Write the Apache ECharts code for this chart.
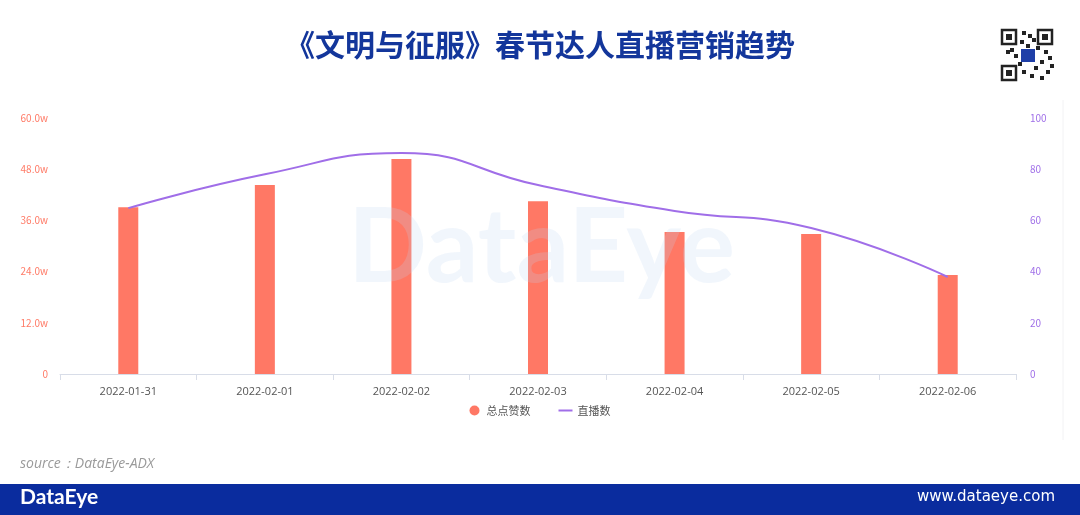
<!DOCTYPE html>
<html><head><meta charset="utf-8">
<script src="https://cdn.jsdelivr.net/npm/echarts@6/dist/echarts.min.js"></script>
<style>html,body{margin:0;padding:0;background:#fff}#c{width:1080px;height:515px}</style>
</head><body><div id="c"></div>
<script>
const categories = ['2022-01-31','2022-02-01','2022-02-02','2022-02-03','2022-02-04','2022-02-05','2022-02-06'];
const likes = [39.1, 44.3, 50.4, 40.5, 33.3, 32.8, 23.2]; // 总点赞数 (w)
const lives = [64.8, 78, 86.3, 73.8, 63.7, 57, 37.9];     // 直播数
const leftTicks = [0, 12, 24, 36, 48, 60];
const rightTicks = [0, 20, 40, 60, 80, 100];

const chart = echarts.init(document.getElementById('c'));
const qr = [];
function finder(x, y) {
  qr.push({type:'rect', shape:{x:x, y:y, width:14, height:14}, style:{fill:'none', stroke:'#222', lineWidth:2.5}});
  qr.push({type:'rect', shape:{x:x+4, y:y+4, width:6, height:6}, style:{fill:'#222'}});
}
finder(1002, 30); finder(1038, 30); finder(1002, 66);
const dots = [[1022,31],[1028,34],[1020,40],[1032,38],[1006,50],[1014,54],[1024,50],[1044,50],[1048,56],[1040,60],[1022,70],[1030,74],[1046,70],[1040,76],[1050,64],[1010,48],[1026,44],[1036,46],[1018,62],[1034,66]];
dots.forEach(d => qr.push({type:'rect', shape:{x:d[0], y:d[1], width:4, height:4}, style:{fill:'#222'}}));
qr.push({type:'rect', shape:{x:1021, y:49, width:14, height:13}, style:{fill:'#1f3fa8'}});

chart.setOption({
  animation: false,
  textStyle: {fontFamily: '"Noto Sans CJK SC", "Noto Sans", sans-serif'},
  title: {
    text: '《文明与征服》春节达人直播营销趋势',
    left: 'center', top: 25,
    textStyle: {fontSize: 30, fontWeight: 'bold', color: '#13369b', fontFamily: '"Noto Sans CJK SC", sans-serif'}
  },
  grid: {left: 60, right: 64, top: 118, bottom: 141, containLabel: false},
  legend: {
    bottom: 94, left: 'center', itemGap: 28,
    itemWidth: 14, itemHeight: 10, symbolKeepAspect: true,
    textStyle: {fontSize: 11, color: '#555'},
    data: [{name: '总点赞数', icon: 'circle'}, {name: '直播数', icon: 'path://M0,0 H14 V2 H0 Z'}]
  },
  xAxis: {
    type: 'category', data: categories,
    axisLine: {lineStyle: {color: '#d8dde8'}},
    axisTick: {show: true, alignWithLabel: false, length: 6, lineStyle: {color: '#d8dde8'}},
    axisLabel: {color: '#555', fontSize: 11, margin: 12, fontFamily: '"Open Sans", sans-serif'}
  },
  yAxis: [{
    type: 'value', min: 0, max: 60, interval: 12,
    axisLine: {show: false}, axisTick: {show: false}, splitLine: {show: false},
    axisLabel: {color: '#ff7b67', fontSize: 10, margin: 12, formatter: v => v === 0 ? '0' : v.toFixed(1) + 'w'}
  }, {
    type: 'value', min: 0, max: 100, interval: 20,
    axisLine: {show: false}, axisTick: {show: false}, splitLine: {show: false},
    axisLabel: {color: '#a070e8', fontSize: 10, margin: 14}
  }],
  series: [{
    name: '总点赞数', type: 'bar', data: likes, barWidth: 20,
    itemStyle: {color: '#ff7865'}, yAxisIndex: 0
  }, {
    name: '直播数', type: 'line', data: lives, smooth: true, yAxisIndex: 1,
    showSymbol: false, symbol: 'none',
    lineStyle: {color: '#a06ee8', width: 2}, itemStyle: {color: '#a06ee8'}
  }],
  graphic: [
    {type: 'text', left: 348, top: 196, z: 100, silent: true,
     style: {text: 'DataEye', fontSize: 104, fontWeight: 'bold', fontFamily: '"Lato", sans-serif', fill: 'rgba(190,215,240,0.22)'}},
    {type: 'line', shape: {x1: 1063, y1: 100, x2: 1063, y2: 440}, style: {stroke: '#f2f2f4', lineWidth: 1}},
    {type: 'text', left: 20, top: 457,
     style: {text: 'source：DataEye-ADX', fontSize: 14, fontStyle: 'italic', fill: '#9a9a9a', fontFamily: '"Open Sans", sans-serif'}},
    {type: 'rect', shape: {x: 0, y: 484, width: 1080, height: 31}, style: {fill: '#0a2c9e'}},
    {type: 'text', left: 20, top: 487,
     style: {text: 'DataEye', fontSize: 21, fontWeight: 'bold', fill: '#fff', fontFamily: '"Lato", sans-serif'}},
    {type: 'text', right: 25, top: 490,
     style: {text: 'www.dataeye.com', fontSize: 15, fill: '#fff', fontFamily: '"DejaVu Sans", sans-serif'}},
    ...qr
  ]
});
</script></body></html>
